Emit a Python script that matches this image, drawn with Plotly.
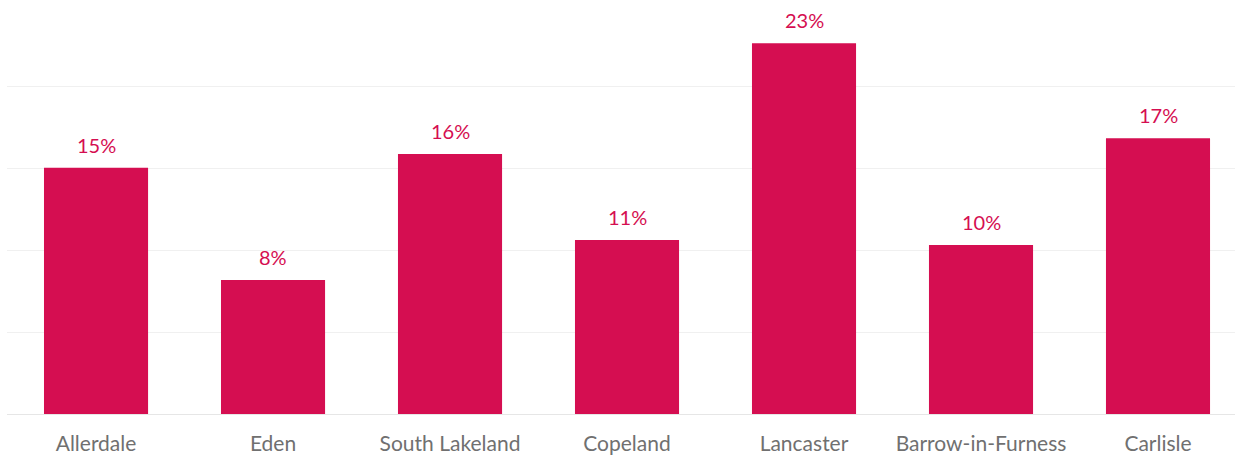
import plotly.graph_objects as go

categories = ["Allerdale", "Eden", "South Lakeland", "Copeland", "Lancaster", "Barrow-in-Furness", "Carlisle"]
values = [15.05, 8.19, 15.89, 10.64, 22.66, 10.33, 16.85]
labels = ["15%", "8%", "16%", "11%", "23%", "10%", "17%"]

bar_color = "#D50E51"

fig = go.Figure()
fig.add_trace(go.Bar(
    x=categories, y=values, marker_color=bar_color, marker_line_width=0,
    width=0.588, hoverinfo="skip",
))

for c, v, t in zip(categories, values, labels):
    fig.add_annotation(x=c, y=v, text=t, showarrow=False, yanchor="bottom",
                       yshift=9, font=dict(family="Lato", size=20, color=bar_color))

fig.update_layout(
    width=1235, height=459,
    margin=dict(l=7, r=0, t=5, b=44.5),
    paper_bgcolor="white", plot_bgcolor="white",
    showlegend=False,
    font=dict(family="Lato"),
)
fig.update_xaxes(
    range=[-0.503, 6.435], showgrid=False, showline=True, linecolor="#E6E6E6", linewidth=1,
    ticks="outside", ticklen=11, tickcolor="rgba(0,0,0,0)",
    tickfont=dict(family="Lato", size=21, color="#707070"),
)
fig.update_yaxes(
    range=[0, 25], dtick=5, showgrid=True, gridcolor="#F0F0F0", gridwidth=1,
    showticklabels=False, zeroline=False, showline=False,
)

fig.write_html("out.html")
